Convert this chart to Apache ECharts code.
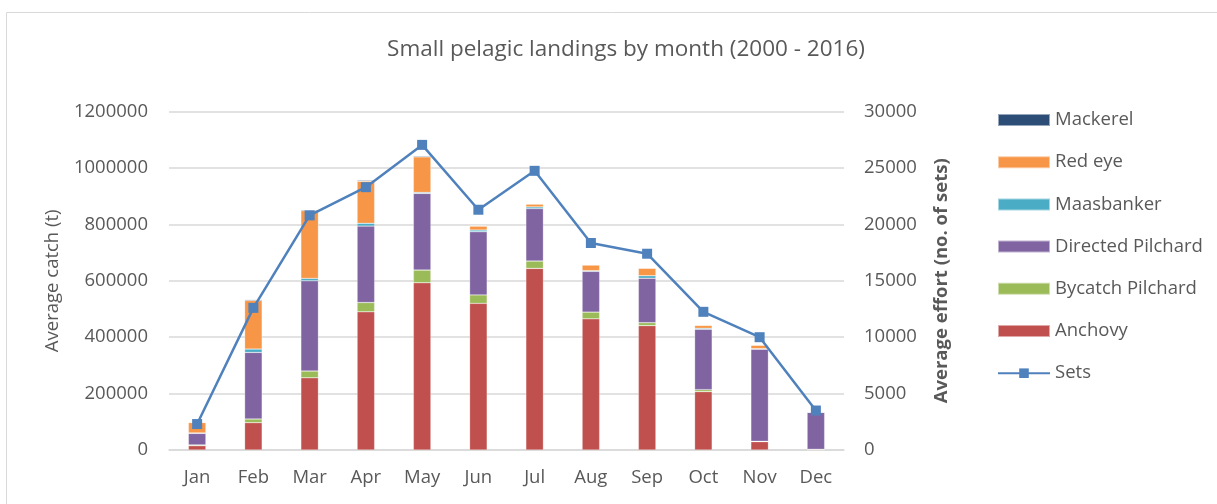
<!DOCTYPE html>
<html>
<head>
<meta charset="utf-8">
<title>Small pelagic landings by month</title>
<script src="https://cdn.jsdelivr.net/npm/echarts@6/dist/echarts.min.js"></script>
<style>
  html, body { margin: 0; padding: 0; background: #fff; }
  #chart { width: 1217px; height: 504px; }
</style>
</head>
<body>
<div id="chart"></div>
<script>
// values
const months = ['Jan', 'Feb', 'Mar', 'Apr', 'May', 'Jun', 'Jul', 'Aug', 'Sep', 'Oct', 'Nov', 'Dec']
const anchovy = [15000, 97000, 256000, 490000, 593000, 520000, 644000, 465000, 441000, 207000, 29500, 2000]
const bycatchPilchard = [3000, 13000, 24000, 33000, 45000, 30000, 26000, 24000, 10500, 7000, 1500, 500]
const directedPilchard = [41000, 236000, 320000, 271000, 272000, 224000, 186000, 144500, 157500, 214000, 326500, 131000]
const maasbanker = [1500, 12000, 8500, 10000, 3500, 6000, 6000, 2500, 9000, 3500, 2000, 500]
const redEye = [37000, 172000, 240000, 149000, 126000, 14000, 10000, 20000, 26500, 10500, 12000, 1500]
const mackerel = [1000, 3000, 3000, 3000, 3000, 1500, 1500, 1000, 1000, 1000, 1000, 500]
const sets = [2300, 12600, 20800, 23300, 27050, 21300, 24750, 18350, 17400, 12250, 10000, 3500]
const catchTicks = [0, 200000, 400000, 600000, 800000, 1000000, 1200000]
const effortTicks = [0, 5000, 10000, 15000, 20000, 25000, 30000]

const FONT = 'Open Sans'
const GREY = '#595959'
const FS = 18.5

const chart = echarts.init(document.getElementById('chart'))

function barSeries(name, data, color) {
  return {
    name: name,
    type: 'bar',
    stack: 'catch',
    barWidth: 17.5,
    data: data,
    itemStyle: { color: color, borderColor: 'rgba(255,255,255,0.5)', borderWidth: 0.5 }
  }
}

chart.setOption({
  animation: false,
  textStyle: { fontFamily: FONT },
  title: {
    text: 'Small pelagic landings by month (2000 - 2016)',
    left: 621,
    textAlign: 'center',
    top: 33,
    textStyle: { color: GREY, fontSize: 22.5, fontWeight: 'normal', fontFamily: FONT }
  },
  graphic: [{
    type: 'rect',
    shape: { x: 6.5, y: 12.5, width: 1240, height: 520 },
    style: { fill: 'none', stroke: '#d9d9d9', lineWidth: 1 },
    silent: true
  }],
  legend: {
    orient: 'vertical',
    left: 997,
    top: 110.5,
    padding: 0,
    itemWidth: 52,
    itemHeight: 12,
    itemGap: 23.2,
    textStyle: { color: GREY, fontSize: FS, lineHeight: FS, fontFamily: FONT },
    data: [
      { name: 'Mackerel', icon: 'rect' },
      { name: 'Red eye', icon: 'rect' },
      { name: 'Maasbanker', icon: 'rect' },
      { name: 'Directed Pilchard', icon: 'rect' },
      { name: 'Bycatch Pilchard', icon: 'rect' },
      { name: 'Anchovy', icon: 'rect' },
      { name: 'Sets' }
    ]
  },
  grid: { left: 169, right: 1217 - 844, top: 111.6, bottom: 504 - 450 },
  xAxis: {
    type: 'category',
    data: months,
    axisTick: { show: false },
    axisLine: { lineStyle: { color: '#d9d9d9', width: 1.5 } },
    axisLabel: { color: GREY, fontSize: FS, margin: 18, fontFamily: FONT }
  },
  yAxis: [{
    type: 'value',
    min: catchTicks[0],
    max: catchTicks[catchTicks.length - 1],
    interval: catchTicks[1] - catchTicks[0],
    name: 'Average catch (t)',
    nameLocation: 'middle',
    nameGap: 107,
    nameTextStyle: { color: GREY, fontSize: FS, fontFamily: FONT },
    axisLine: { show: false },
    axisTick: { show: false },
    axisLabel: { color: GREY, fontSize: FS, margin: 21, fontFamily: FONT, formatter: v => String(v) },
    splitLine: { lineStyle: { color: '#d9d9d9', width: 1.5 } }
  }, {
    type: 'value',
    position: 'right',
    min: effortTicks[0],
    max: effortTicks[effortTicks.length - 1],
    interval: effortTicks[1] - effortTicks[0],
    name: 'Average effort (no. of sets)',
    nameLocation: 'middle',
    nameGap: 88,
    nameTextStyle: { color: GREY, fontSize: FS, fontWeight: 'bold', fontFamily: FONT },
    axisLine: { show: false },
    axisTick: { show: false },
    axisLabel: { color: GREY, fontSize: FS, margin: 20, fontFamily: FONT, formatter: v => String(v) },
    splitLine: { show: false }
  }],
  series: [
    barSeries('Anchovy', anchovy, '#C0504D'),
    barSeries('Bycatch Pilchard', bycatchPilchard, '#9BBB59'),
    barSeries('Directed Pilchard', directedPilchard, '#8064A2'),
    barSeries('Maasbanker', maasbanker, '#4BACC6'),
    barSeries('Red eye', redEye, '#F79646'),
    barSeries('Mackerel', mackerel, '#2C4D75'),
    {
      name: 'Sets',
      type: 'line',
      yAxisIndex: 1,
      data: sets,
      symbol: 'rect',
      symbolSize: 10,
      lineStyle: { color: '#4F81BD', width: 2.5 },
      itemStyle: { color: '#4F81BD' },
      z: 5
    }
  ]
})
</script>
</body>
</html>
